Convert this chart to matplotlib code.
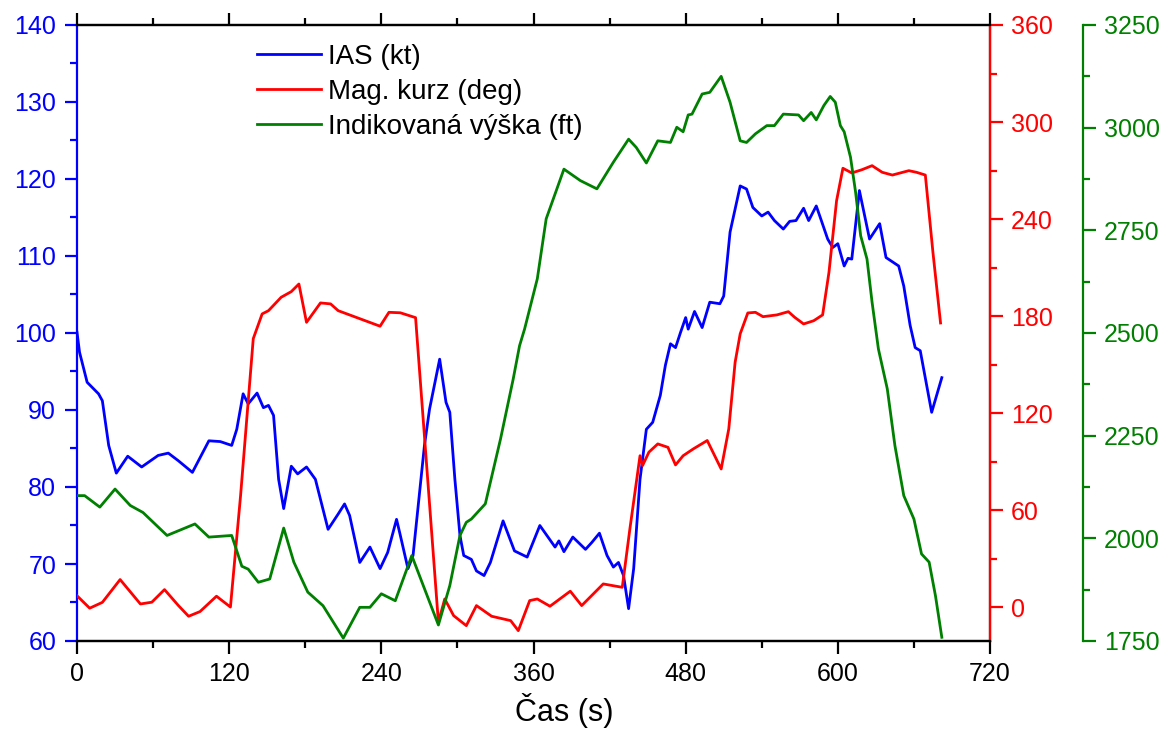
import matplotlib
matplotlib.use("Agg")
import matplotlib.pyplot as plt
from matplotlib.ticker import MultipleLocator

plt.rcParams['font.family'] = ['Liberation Sans', 'DejaVu Sans']

# IAS (kt)
ias_t = [0, 2, 8, 17, 20, 25, 31, 40, 51, 64, 72, 80, 91, 104, 113, 122, 126, 131, 135, 142,
         147, 151, 155, 159, 163, 169, 174, 181, 188, 198, 206, 211, 215, 223, 231, 239, 245, 252, 255, 261,
         265, 274, 278, 286, 291, 294, 298, 302, 305, 311, 315, 321, 326, 336, 345, 355, 365, 377, 380, 384,
         391, 401, 406, 412, 418, 423, 427, 431, 435, 439, 444, 449, 454, 460, 464, 468, 472, 476, 480, 482,
         487, 493, 499, 507, 510, 515, 523, 528, 533, 540, 545, 550, 557, 562, 567, 573, 577, 583, 587, 592,
         596, 600, 605, 608, 611, 617, 625, 633, 638, 648, 652, 657, 661, 665, 674, 682]
ias = [100.1, 97.5, 93.6, 92.1, 91.2, 85.4, 81.8, 84.0, 82.6, 84.1, 84.4, 83.4, 81.9, 86.0, 85.9, 85.4, 87.5, 92.1, 90.8, 92.2,
       90.3, 90.6, 89.3, 81.0, 77.2, 82.7, 81.7, 82.6, 81.0, 74.5, 76.5, 77.8, 76.3, 70.2, 72.2, 69.4, 71.5, 75.8, 73.7, 69.4,
       71.1, 85.4, 90.1, 96.6, 91.0, 89.7, 81.0, 73.7, 71.1, 70.6, 69.1, 68.5, 70.2, 75.6, 71.7, 70.9, 75.0, 72.2, 73.0, 71.6,
       73.5, 71.9, 72.8, 74.0, 71.1, 69.6, 70.2, 68.5, 64.2, 69.4, 81.0, 87.5, 88.4, 91.9, 95.8, 98.6, 98.1, 100.1, 102.0, 100.5,
       102.8, 100.7, 104.0, 103.8, 104.8, 113.1, 119.1, 118.7, 116.3, 115.2, 115.7, 114.6, 113.5, 114.5, 114.6, 116.2, 114.6, 116.5, 114.6, 112.2,
       111.1, 111.6, 108.7, 109.7, 109.6, 118.5, 112.2, 114.2, 109.8, 108.7, 106.1, 101.0, 98.1, 97.7, 89.7, 94.2]

# Mag. kurz (deg)
hdg_t = [0, 10, 20, 34, 50, 59, 69, 80, 88, 97, 110, 121, 129, 139, 146, 151, 161, 169, 175, 181,
         192, 200, 206, 239, 246, 255, 267, 285, 290, 297, 307, 315, 327, 342, 348, 357, 363, 373, 389, 398,
         415, 430, 436, 444, 446, 451, 458, 466, 472, 478, 486, 497, 508, 514, 519, 523, 529, 535, 541, 552,
         561, 566, 573, 581, 588, 593, 599, 604, 611, 619, 627, 635, 643, 656, 662, 669, 675, 681]
hdg = [7, -0.7, 2.9, 17, 1.9, 3, 10.8, 0.9, -5.7, -2.8, 6.7, 0, 69, 166, 181.3, 183.3, 191.6, 195.1, 199.8, 176.1,
       188.1, 187.5, 183.3, 173.7, 182.3, 182, 179, -9.4, 5, -5.3, -11.5, 0.9, -5.7, -8.4, -14.6, 4, 5, 0.5, 9.8, 0.9,
       14.3, 12.2, 48.3, 93.6, 87.5, 95.8, 100.9, 98.8, 87.9, 93.6, 97.8, 103, 85.4, 110.2, 151.4, 169, 181.9, 182.3, 179.6, 180.7,
       182.7, 179.2, 175.1, 177.1, 180.7, 207, 251.3, 271.4, 268.5, 270.5, 273, 268.9, 267.2, 269.9, 268.9, 267.2, 219.4, 175.7]

# Indikovaná výška (ft)
alt_t = [0, 6, 18, 30, 42, 52, 71, 93, 104, 122, 130, 135, 143, 152, 163, 171, 182, 194, 210, 223,
         231, 240, 251, 264, 285, 294, 302, 307, 311, 322, 334, 344, 349, 353, 363, 370, 384, 397, 410, 423,
         435, 441, 449, 458, 468, 473, 478, 482, 485, 493, 499, 508, 515, 523, 528, 535, 544, 550, 557, 569,
         573, 579, 583, 589, 594, 598, 602, 605, 610, 614, 618, 623, 627, 632, 639, 645, 652, 660, 666, 672,
         677, 682]
alt = [2104, 2104, 2076, 2120, 2080, 2063, 2007, 2035, 2003, 2007, 1932, 1925, 1893, 1901, 2025, 1942, 1869, 1836, 1757, 1832,
       1832, 1865, 1848, 1958, 1789, 1885, 2007, 2039, 2047, 2084, 2242, 2388, 2469, 2510, 2632, 2778, 2899, 2871, 2851, 2916,
       2972, 2952, 2914, 2968, 2964, 3001, 2990, 3031, 3033, 3082, 3086, 3125, 3062, 2968, 2964, 2985, 3005, 3005, 3033, 3031,
       3017, 3037, 3019, 3054, 3076, 3062, 3005, 2990, 2928, 2843, 2737, 2680, 2575, 2461, 2364, 2226, 2104, 2047, 1962, 1942,
       1860, 1759]

blue = '#0000FF'
red = '#FF0000'
green = '#008000'
fs = 18

fig = plt.figure(figsize=(11.73, 7.33), dpi=100)
ax = fig.add_axes([77/1173, 1 - 641/733, 913/1173, 616/733])
ax2 = ax.twinx()
ax3 = ax.twinx()
ax3.spines['right'].set_position(('axes', 1 + 93/913))

l1, = ax.plot(ias_t, ias, color=blue, lw=2, label='IAS (kt)')
l2, = ax2.plot(hdg_t, hdg, color=red, lw=2, label='Mag. kurz (deg)')
l3, = ax3.plot(alt_t, alt, color=green, lw=2, label='Indikovaná výška (ft)')

ax.set_xlim(0, 720)
ax.set_ylim(60, 140)
ax2.set_ylim(-21, 360)
ax3.set_ylim(1750, 3250)

ax.xaxis.set_major_locator(MultipleLocator(120))
ax.xaxis.set_minor_locator(MultipleLocator(60))
ax.yaxis.set_major_locator(MultipleLocator(10))
ax.yaxis.set_minor_locator(MultipleLocator(5))
ax2.yaxis.set_major_locator(MultipleLocator(60))
ax2.yaxis.set_minor_locator(MultipleLocator(30))
ax3.yaxis.set_major_locator(MultipleLocator(250))
ax3.yaxis.set_minor_locator(MultipleLocator(125))

for a in (ax, ax2, ax3):
    for s in a.spines.values():
        s.set_linewidth(1.6)

ax.tick_params(axis='x', which='both', direction='out', top=True, width=1.6, labelsize=fs, pad=6)
ax.tick_params(axis='x', which='major', length=9)
ax.tick_params(axis='x', which='minor', length=5)
ax.tick_params(axis='y', which='both', colors=blue, width=1.6, labelsize=fs, pad=6)
ax.tick_params(axis='y', which='major', length=9)
ax.tick_params(axis='y', which='minor', length=5)
ax.spines['left'].set_color(blue)

ax2.tick_params(axis='y', which='both', colors=red, width=1.6, labelsize=fs, pad=6)
ax2.tick_params(axis='y', which='major', length=9)
ax2.tick_params(axis='y', which='minor', length=5)
ax2.spines['right'].set_color(red)
ax2.spines['left'].set_visible(False)

ax3.tick_params(axis='y', which='both', colors=green, width=1.6, labelsize=fs, pad=6)
ax3.tick_params(axis='y', which='major', length=9)
ax3.tick_params(axis='y', which='minor', length=5)
ax3.spines['right'].set_color(green)
for side in ('left', 'top', 'bottom'):
    ax3.spines[side].set_visible(False)

ax.set_xlabel('Čas (s)', fontsize=22)
ax.xaxis.set_label_coords(0.534, -0.085)

ax.legend(handles=[l1, l2, l3], loc='upper left', bbox_to_anchor=(0.17, 1.01),
          frameon=False, fontsize=20, handlelength=2.3, handletextpad=0.25, labelspacing=0.33)

fig.savefig('out.png', dpi=100)
